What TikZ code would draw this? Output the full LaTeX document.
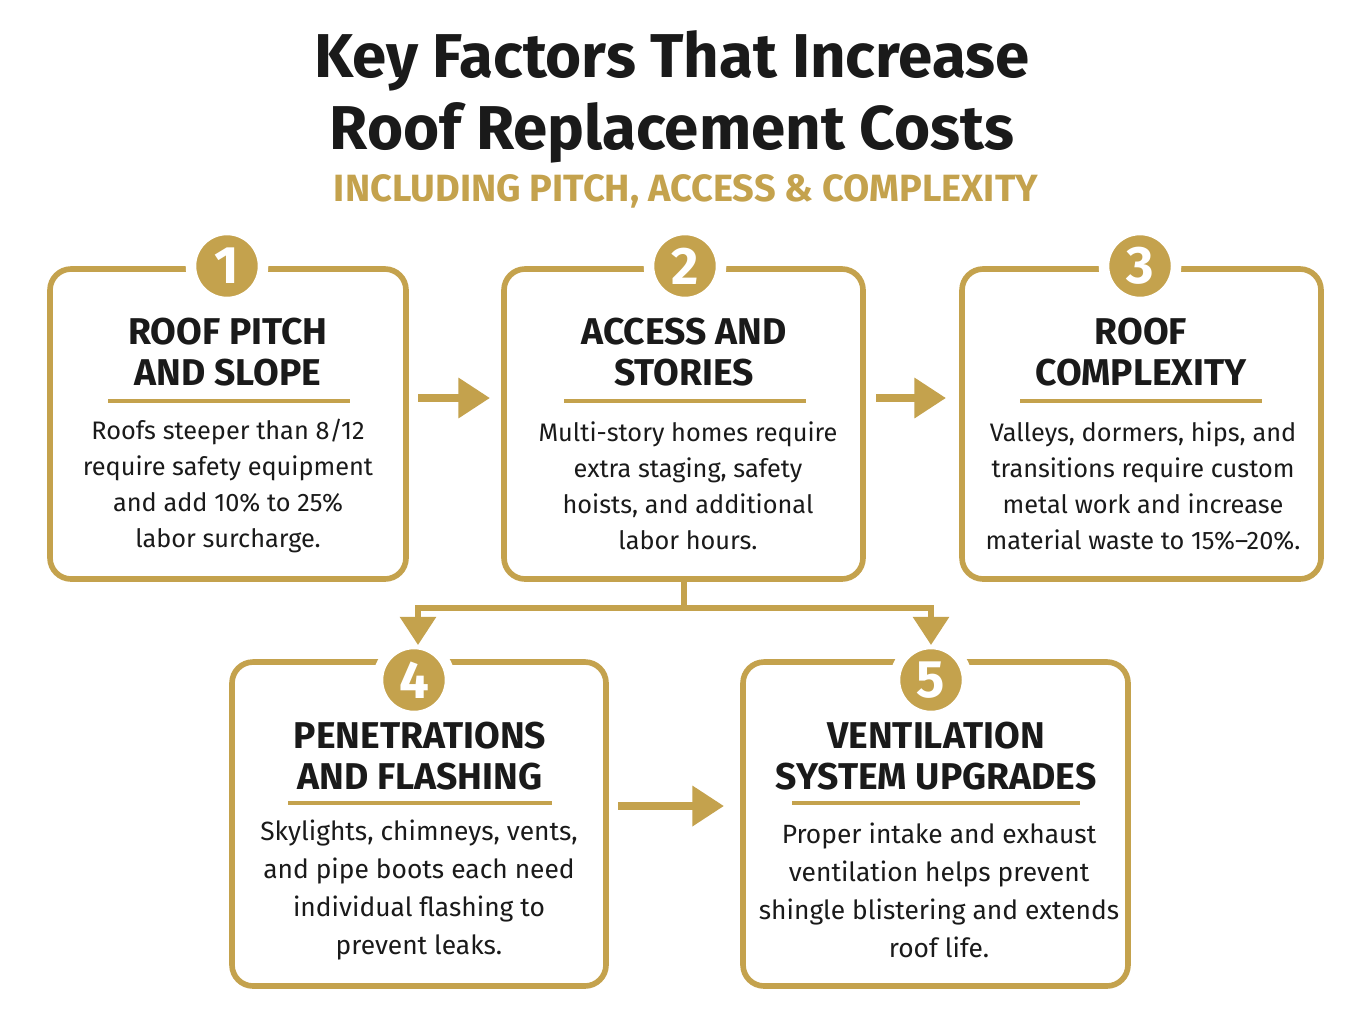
\documentclass[tikz,border=0pt]{standalone}
\usepackage{fontspec}
\setmainfont{Fira Sans}
\usetikzlibrary{arrows.meta}
\definecolor{gold}{HTML}{C4A24D}
\definecolor{ink}{HTML}{1A1A1A}
\begin{document}
\begin{tikzpicture}[x=0.01cm,y=-0.01cm,
 box/.style={draw=gold,line width=1.6pt,rounded corners=6pt,fill=white},
 num/.style={circle,fill=gold,draw=white,line width=3pt,minimum size=0.72cm,inner sep=0pt,text=white,font=\fontsize{15}{15}\selectfont\bfseries},
 head/.style={align=center,text=ink,font=\fontsize{10.6}{11.6}\selectfont\bfseries},
 body/.style={align=center,text=ink,font=\fontsize{7.2}{10.2}\selectfont},
 arr/.style={gold,line width=2.2pt,-{Triangle[length=9pt,width=11pt]}},
 rule/.style={gold,line width=1.2pt}]
\useasboundingbox (0,0) rectangle (1371,1024);
\fill[white] (0,0) rectangle (1371,1024);
\node[font=\fontsize{17.6}{20.5}\selectfont\bfseries,text=ink,align=center] (t) at (672,97) {Key Factors That Increase\\Roof Replacement Costs};
\node[font=\fontsize{10.8}{12}\selectfont\bfseries,text=gold] (st) at (686,191) {INCLUDING PITCH, ACCESS \& COMPLEXITY};
% boxes
\draw[box] (50,269) rectangle (406,579);
\draw[box] (504,269) rectangle (863,579);
\draw[box] (962,269) rectangle (1321,579);
\draw[box] (232,662) rectangle (606,986);
\draw[box] (743,662) rectangle (1128,986);
\node[num] (n1) at (227,266) {1};
\node[num] (n2) at (685,266) {2};
\node[num] (n3) at (1140,266) {3};
\node[num] (n4) at (414,680) {4};
\node[num] (n5) at (931,680) {5};
\node[head] (h1) at (228,352) {ROOF PITCH\\AND SLOPE};
\node[head] (h2) at (684,352) {ACCESS AND\\STORIES};
\node[head] (h3) at (1141,352) {ROOF\\COMPLEXITY};
\node[head] (h4) at (420,756) {PENETRATIONS\\AND FLASHING};
\node[head] (h5) at (936,756) {VENTILATION\\SYSTEM UPGRADES};
\draw[rule] (108,401) -- (350,401);
\draw[rule] (564,401) -- (806,401);
\draw[rule] (1020,401) -- (1262,401);
\draw[rule] (288,803) -- (552,803);
\draw[rule] (792,803) -- (1080,803);
\node[body] (d1) at (228,486) {Roofs steeper than 8/12\\require safety equipment\\and add 10\% to 25\%\\labor surcharge.};
\node[body] (d2) at (688,486) {Multi-story homes require\\extra staging, safety\\hoists, and additional\\labor hours.};
\node[body] (d3) at (1143,486) {Valleys, dormers, hips, and\\transitions require custom\\metal work and increase\\material waste to 15\%–20\%.};
\node[body,font=\fontsize{7.5}{10.8}\selectfont] (d4) at (419,890) {Skylights, chimneys, vents,\\and pipe boots each need\\individual flashing to\\prevent leaks.};
\node[body,font=\fontsize{7.5}{10.8}\selectfont] (d5) at (939,890) {Proper intake and exhaust\\ventilation helps prevent\\shingle blistering and extends\\roof life.};
% connectors
\coordinate (a1s) at (418,398); \coordinate (a1e) at (490,398);
\coordinate (a2s) at (876,398); \coordinate (a2e) at (946,398);
\coordinate (a3s) at (618,806); \coordinate (a3e) at (724,806);
\draw[arr] (a1s) -- (a1e);
\draw[arr] (a2s) -- (a2e);
\draw[arr] (a3s) -- (a3e);
\coordinate (b2b) at (684,580);
\coordinate (j) at (684,608);
\coordinate (t4) at (418,645); \coordinate (t5) at (931,645);
\draw[gold,line width=1.6pt] (b2b) -- (j);
\draw[gold,line width=1.6pt,-{Triangle[length=8pt,width=10pt]}] (j) -| (t4);
\draw[gold,line width=1.6pt,-{Triangle[length=8pt,width=10pt]}] (j) -| (t5);
\end{tikzpicture}
\end{document}
